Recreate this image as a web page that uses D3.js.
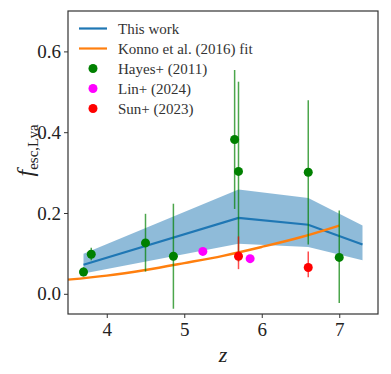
<!DOCTYPE html>
<html>
<head>
<meta charset="utf-8">
<script src="https://cdn.jsdelivr.net/npm/d3@7"></script>
<style>
  body { margin: 0; background: #fff; }
  text { font-family: "Liberation Serif", "DejaVu Serif", serif; fill: #222; }
</style>
</head>
<body>
<div id="grafica"></div>
<script>
// datos
const workZ = [3.7, 5.7, 6.6, 7.3]
const workMid = [0.072, 0.188, 0.171, 0.122]
const workLo = [0.050, 0.124, 0.116, 0.083]
const workHi = [0.099, 0.258, 0.237, 0.169]

const konnoZ = [3.5, 4.0, 4.5, 5.0, 5.5, 6.0, 6.5, 7.0]
const konnoF = [0.035, 0.045, 0.059, 0.076, 0.094, 0.116, 0.140, 0.169]

const hayesZ = [3.7, 3.8, 4.5, 4.86, 5.65, 5.7, 6.6, 7.0]
const hayesF = [0.054, 0.098, 0.126, 0.093, 0.382, 0.303, 0.301, 0.090]
const hayesLo = [0.043, 0.083, 0.055, -0.037, 0.210, 0.080, 0.122, -0.023]
const hayesHi = [0.066, 0.114, 0.198, 0.223, 0.554, 0.525, 0.479, 0.206]

const linZ = [5.24, 5.85]
const linF = [0.105, 0.087]

const sunZ = [5.7, 6.6]
const sunF = [0.093, 0.065]
const sunLo = [0.061, 0.041]
const sunHi = [0.142, 0.105]

const xTicks = [4, 5, 6, 7]
const yTicks = [0.0, 0.2, 0.4, 0.6]

const margin = { top: 11, right: 13, bottom: 60, left: 68 }
const svgWidth = 391
const svgHeight = 374
const chartWidth = svgWidth - margin.left - margin.right
const chartHeight = svgHeight - margin.top - margin.bottom

const x = d3.scaleLinear().domain([3.5, 7.5]).range([0, chartWidth])
const y = d3.scaleLinear().domain([-0.05, 0.7]).range([chartHeight, 0])

const svg = d3.select('#grafica')
    .append('svg')
    .attr('width', svgWidth)
    .attr('height', svgHeight)

const g = svg.append('g')
    .attr('transform', `translate(${margin.left},${margin.top})`)

// banda
const band = workZ.map((z, i) => ({ z, lo: workLo[i], hi: workHi[i] }))
g.append('path')
    .datum(band)
    .attr('d', d3.area().x(d => x(d.z)).y0(d => y(d.lo)).y1(d => y(d.hi)))
    .style('fill', '#1f77b4')
    .style('fill-opacity', 0.5)

const line = d3.line().x(d => x(d[0])).y(d => y(d[1]))

g.append('path')
    .datum(workZ.map((z, i) => [z, workMid[i]]))
    .attr('d', line)
    .style('fill', 'none')
    .style('stroke', '#1f77b4')
    .style('stroke-width', 2.2)

g.append('path')
    .datum(konnoZ.map((z, i) => [z, konnoF[i]]))
    .attr('d', d3.line().curve(d3.curveMonotoneX).x(d => x(d[0])).y(d => y(d[1])))
    .style('fill', 'none')
    .style('stroke', '#ff7f0e')
    .style('stroke-width', 2.4)

// barras de error
function errbars(zs, lo, hi, color) {
    g.selectAll(null)
        .data(zs)
        .enter()
        .append('line')
        .attr('x1', d => x(d)).attr('x2', d => x(d))
        .attr('y1', (d, i) => y(lo[i])).attr('y2', (d, i) => y(hi[i]))
        .style('stroke', color)
        .style('stroke-opacity', 0.7)
        .style('stroke-width', 1.5)
}
function dots(zs, fs, color) {
    g.selectAll(null)
        .data(zs)
        .enter()
        .append('circle')
        .attr('cx', d => x(d))
        .attr('cy', (d, i) => y(fs[i]))
        .attr('r', 4.5)
        .style('fill', color)
}

errbars(hayesZ, hayesLo, hayesHi, 'green')
dots(hayesZ, hayesF, 'green')
dots(linZ, linF, 'magenta')
errbars(sunZ, sunLo, sunHi, 'red')
dots(sunZ, sunF, 'red')

// ejes
const axisX = d3.axisBottom(x).tickValues(xTicks).tickFormat(d3.format('d')).tickSize(4).tickPadding(5)
const axisY = d3.axisLeft(y).tickValues(yTicks).tickFormat(d3.format('.1f')).tickSize(4).tickPadding(3)

const gx = g.append('g')
    .attr('transform', `translate(0,${chartHeight})`)
    .call(axisX)
const gy = g.append('g').call(axisY)
;[gx, gy].forEach(a => {
    a.select('.domain').remove()
    a.selectAll('.tick line').style('stroke', '#333').style('stroke-width', 1)
    a.selectAll('.tick text').style('font-size', '19px').style('fill', '#222')
})

g.append('rect')
    .attr('width', chartWidth)
    .attr('height', chartHeight)
    .style('fill', 'none')
    .style('stroke', '#333')
    .style('stroke-width', 1.2)

// etiquetas
svg.append('text')
    .attr('x', margin.left + chartWidth / 2)
    .attr('y', 362)
    .attr('text-anchor', 'middle')
    .style('font-size', '22px')
    .style('font-style', 'italic')
    .text('z')

const yl = svg.append('text')
    .attr('transform', `translate(33,${margin.top + chartHeight / 2 - 12}) rotate(-90)`)
    .attr('text-anchor', 'middle')
yl.append('tspan').style('font-size', '24px').style('font-style', 'italic').text('f')
yl.append('tspan').attr('dy', 5).style('font-size', '15px').text('esc,Lya')

// leyenda
const legend = [
    { label: 'This work', type: 'line', color: '#1f77b4' },
    { label: 'Konno et al. (2016) fit', type: 'line', color: '#ff7f0e' },
    { label: 'Hayes+ (2011)', type: 'dot', color: 'green' },
    { label: 'Lin+ (2024)', type: 'dot', color: 'magenta' },
    { label: 'Sun+ (2023)', type: 'dot', color: 'red' },
]
const lg = svg.append('g').attr('transform', 'translate(79,28.5)')
legend.forEach((d, i) => {
    const row = lg.append('g').attr('transform', `translate(0,${i * 20})`)
    if (d.type === 'line') {
        row.append('line').attr('x1', 0).attr('x2', 28)
            .style('stroke', d.color).style('stroke-width', 2.2)
    } else {
        row.append('circle').attr('cx', 14).attr('r', 4.5).style('fill', d.color)
    }
    row.append('text').attr('x', 39).attr('dy', '0.35em')
        .style('font-size', '15px').style('fill', '#333').text(d.label)
})
</script>
</body>
</html>
